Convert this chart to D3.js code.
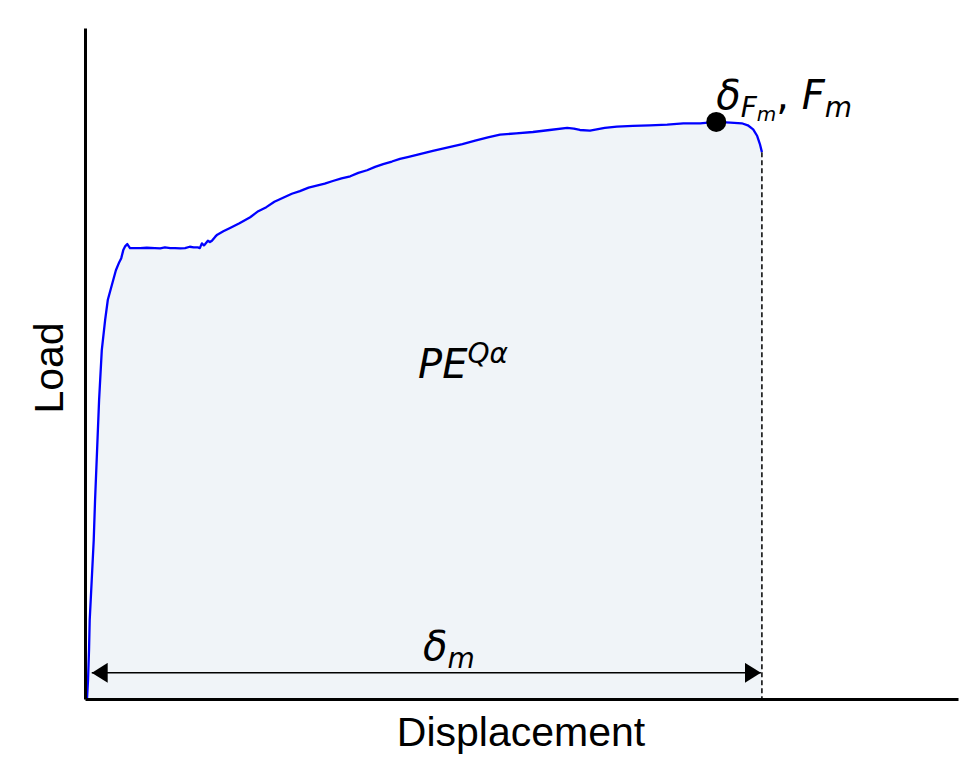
<!DOCTYPE html>
<html><head><meta charset="utf-8">
<script src="https://cdn.jsdelivr.net/npm/d3@7"></script>
<style>body{margin:0;background:#fff}</style>
</head><body>
<svg id="chart" width="974" height="784"></svg>
<script>
// Load–displacement curve (arbitrary units)
const displacement = [0.03,0.045,0.06,0.07,0.10,0.13,0.15,0.18,0.21,0.25,0.30,0.34,0.40,0.46,0.51,0.54,0.57,0.60,0.63,0.67,0.75,0.82,0.92,1.04,1.12,1.19,1.27,1.34,1.42,1.49,1.56,1.62,1.68,1.71,1.74,1.77,1.79,1.83,1.86,1.89,1.94,1.97,2.06,2.16,2.30,2.46,2.58,2.70,2.82,2.95,3.08,3.20,3.33,3.45,3.57,3.69,3.82,3.95,4.07,4.20,4.32,4.44,4.57,4.69,4.82,4.94,5.06,5.18,5.31,5.44,5.62,5.81,6.00,6.18,6.42,6.67,6.92,7.18,7.28,7.37,7.52,7.74,7.92,8.16,8.41,8.67,8.91,9.16,9.40,9.61,9.78,9.87,9.95,10.01,10.05,10.08];
const load = [0,2.8,7.3,11.8,17.7,23.7,29.7,37.1,44.6,52.0,56.5,59.5,61.7,63.9,65.1,65.7,66.9,67.5,67.8,67.2,67.2,67.2,67.25,67.2,67.15,67.3,67.2,67.2,67.15,67.2,67.4,67.3,67.3,67.2,67.9,67.6,67.8,68.3,68.1,68.3,68.9,69.2,69.7,70.2,70.9,71.8,72.7,73.3,74.1,74.7,75.3,75.7,76.2,76.5,76.8,77.2,77.6,77.9,78.4,78.8,79.3,79.7,80.1,80.5,80.8,81.1,81.4,81.7,82.0,82.3,82.7,83.2,83.7,84.1,84.3,84.5,84.8,85.1,85.0,84.8,84.7,85.1,85.3,85.4,85.5,85.6,85.8,85.8,86.0,85.9,85.8,85.5,84.9,83.9,82.7,81.5];
const maxPoint = {x: 9.40, y: 86.0};   // δ_Fm, F_m
const deltaM = 10.08;                  // displacement at end
const arrowStart = 0.10;
const xDomain = [0, 13];
const yDomain = [0, 100];
const xLabel = "Displacement";
const yLabel = "Load";

const svg = d3.select("#chart");
const m = {left: 85, right: 16, top: 28, bottom: 85};
const W = 974, H = 784;
const x = d3.scaleLinear().domain(xDomain).range([m.left, W - m.right]);
const y = d3.scaleLinear().domain(yDomain).range([H - m.bottom, m.top]);

const pts = displacement.map((d, i) => ({x: d, y: load[i]}));

// filled area
const area = d3.area().x(d => x(d.x)).y0(y(0)).y1(d => y(d.y));
svg.append("path").datum(pts).attr("d", area).attr("fill", "#f0f4f8");

// curve
const line = d3.line().x(d => x(d.x)).y(d => y(d.y));
svg.append("path").datum(pts).attr("d", line)
  .attr("fill", "none").attr("stroke", "#0000ff").attr("stroke-width", 2.3).attr("stroke-linejoin", "round");

// dashed line at delta_m
svg.append("line")
  .attr("x1", x(deltaM)).attr("x2", x(deltaM))
  .attr("y1", y(load[load.length - 1])).attr("y2", y(0))
  .attr("stroke", "#000").attr("stroke-width", 1.5).attr("stroke-dasharray", "5,3");

// double arrow
const defs = svg.append("defs");
defs.append("marker").attr("id", "ah").attr("viewBox", "0 0 16 20")
  .attr("refX", 16).attr("refY", 10).attr("markerWidth", 16).attr("markerHeight", 20)
  .attr("markerUnits", "userSpaceOnUse").attr("orient", "auto-start-reverse")
  .append("path").attr("d", "M0,0 L16,10 L0,20 Z").attr("fill", "#000");
const arrowY = y(3.9);
svg.append("line")
  .attr("x1", x(arrowStart)).attr("x2", x(deltaM) - 1)
  .attr("y1", arrowY).attr("y2", arrowY)
  .attr("stroke", "#000").attr("stroke-width", 1.5)
  .attr("marker-start", "url(#ah)").attr("marker-end", "url(#ah)");

// max point
svg.append("circle").attr("cx", x(maxPoint.x)).attr("cy", y(maxPoint.y)).attr("r", 10).attr("fill", "#000");

// axes (spines only)
svg.append("g").attr("transform", `translate(0,${y(0)})`)
  .call(d3.axisBottom(x).tickValues([]).tickSizeOuter(0))
  .call(g => g.select(".domain").attr("stroke-width", 3));
svg.append("g").attr("transform", `translate(${x(0)},0)`)
  .call(d3.axisLeft(y).tickValues([]).tickSizeOuter(0))
  .call(g => g.select(".domain").attr("stroke-width", 3));

// axis labels
svg.append("text").attr("x", 521).attr("y", 746)
  .attr("text-anchor", "middle").attr("font-family", "Liberation Sans, Arial, sans-serif")
  .attr("font-size", 41).text(xLabel);
svg.append("text").attr("transform", `translate(63,${368}) rotate(-90)`)
  .attr("text-anchor", "middle").attr("font-family", "Liberation Sans, Arial, sans-serif")
  .attr("font-size", 41).text(yLabel);

// math labels
const mf = "DejaVu Sans, sans-serif";
function mathText(px, py, anchor) {
  return svg.append("text").attr("x", px).attr("y", py).attr("text-anchor", anchor)
    .attr("font-family", mf).attr("font-style", "italic").attr("font-size", 40);
}
// PE^{Qα}
const t1 = mathText(x(5.63), y(47.8), "middle");
t1.append("tspan").text("PE");
t1.append("tspan").attr("dy", -15).attr("font-size", 28).text("Qα");

// δ_m
const t2 = mathText(x(5.42), y(5.8), "middle");
t2.append("tspan").text("δ");
t2.append("tspan").attr("dy", 8).attr("font-size", 28).text("m");

// δ_{F_m}, F_m
const t3 = mathText(x(maxPoint.x), y(88.0), "start");
t3.append("tspan").text("δ");
t3.append("tspan").attr("dy", 8).attr("font-size", 28).text("F");
t3.append("tspan").attr("dy", 4).attr("font-size", 20).text("m");
t3.append("tspan").attr("dy", -12).attr("font-style", "normal").text(", ");
t3.append("tspan").text("F");
t3.append("tspan").attr("dy", 8).attr("font-size", 28).text("m");
</script>
</body></html>
